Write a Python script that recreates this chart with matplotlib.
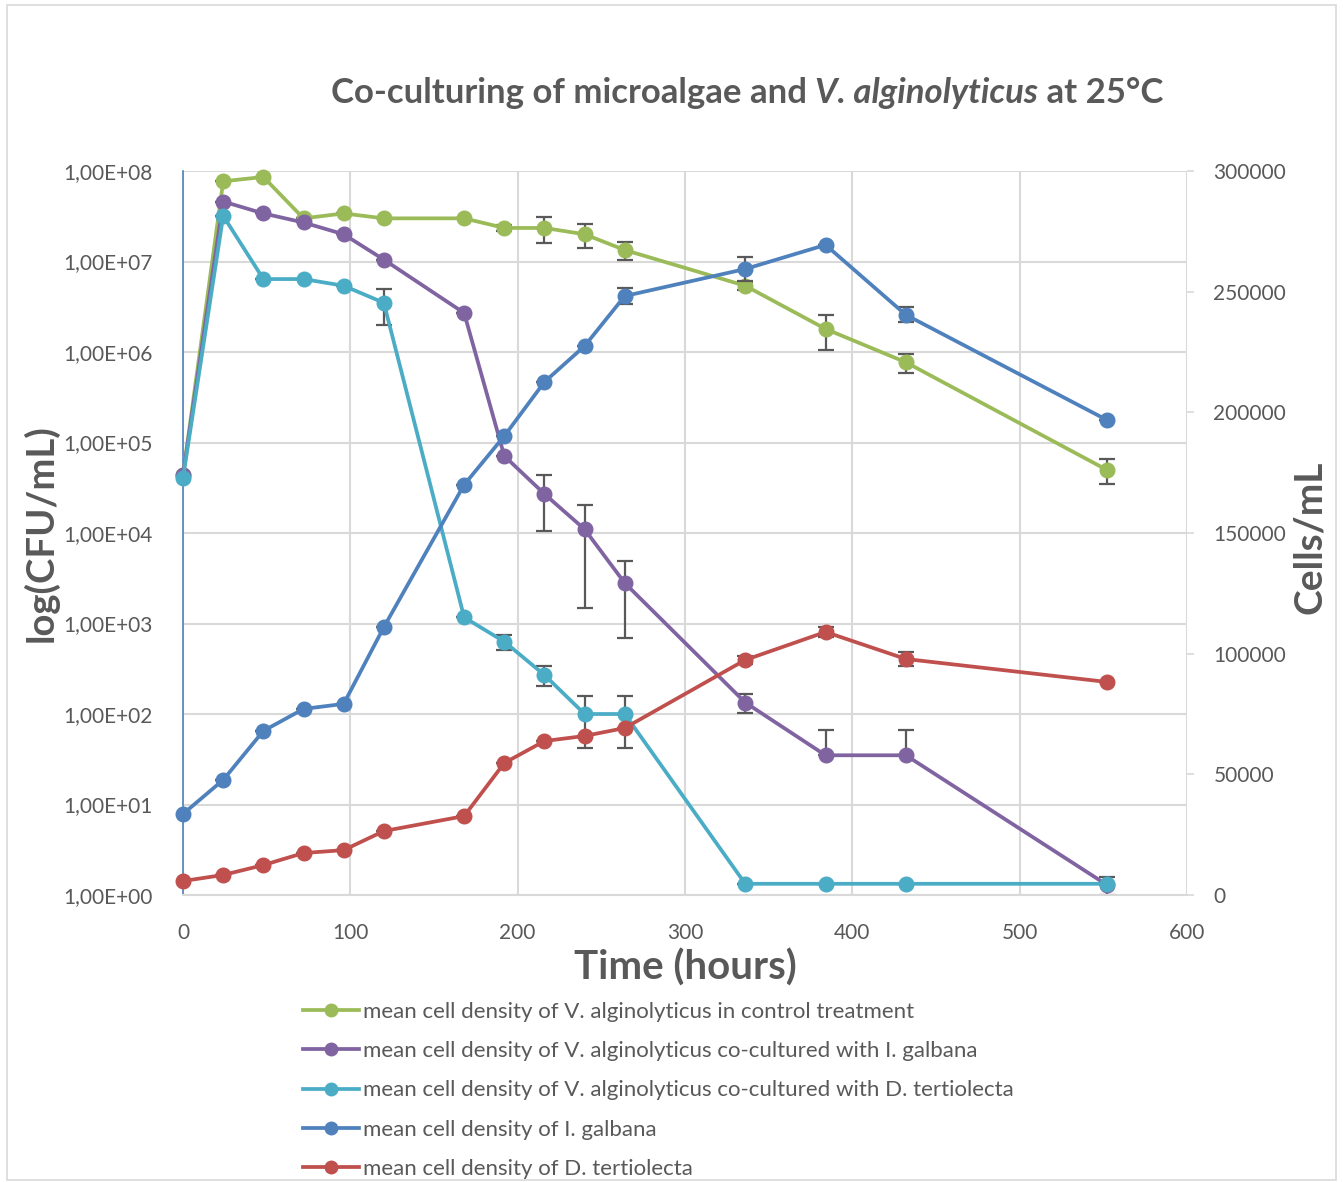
import numpy as np
import matplotlib.pyplot as plt
from matplotlib.ticker import FixedLocator, FuncFormatter, NullLocator
from matplotlib.patches import Rectangle

plt.rcParams['font.family'] = ['Lato', 'DejaVu Sans']

# sampling times (hours)
hours = [0, 24, 48, 72, 96, 120, 168, 192, 216, 240, 264, 336, 384, 432, 552]

# V. alginolyticus, CFU/mL (left log axis)
control = [4.4e4, 7.7e7, 8.6e7, 3.0e7, 3.4e7, 3.0e7, 3.0e7, 2.35e7, 2.35e7, 2.0e7,
           1.34e7, 5.4e6, 1.8e6, 7.7e5, 5.0e4]
control_err = [0, 0, 0, 0, 0, 0, 0, 0.2e7, 0.75e7, 0.6e7, 0.3e7, 0.6e6, 0.76e6, 1.9e5, 1.5e4]

with_galbana = [4.4e4, 4.6e7, 3.4e7, 2.7e7, 2.0e7, 1.05e7, 2.7e6, 7.1e4, 2.7e4, 1.1e4,
                2.8e3, 134, 35, 35, 1.3]
galbana_err_lo = [0, 0, 0, 0, 0, 0, 0, 0, 1.65e4, 9.5e3, 2.1e3, 32, 0, 0, 0.3]
galbana_err_hi = [0, 0, 0, 0, 0, 0, 0, 0, 1.65e4, 9.5e3, 2.1e3, 32, 31, 31, 0.3]

with_tertiolecta = [4.1e4, 3.2e7, 6.4e6, 6.4e6, 5.4e6, 3.5e6, 1.17e3, 630, 270, 100,
                    100, 1.33, 1.33, 1.33, 1.33]
tertiolecta_err = [0, 0, 0, 0, 0, 1.5e6, 0, 115, 68, 58, 58, 0, 0, 0, 0]

# microalgae, cells/mL (right linear axis)
galbana_cells = [33600, 47700, 68000, 77100, 79200, 111000, 170000, 190200, 212600,
                 227500, 248200, 259400, 269400, 240400, 196900]
galbana_cells_err = [0, 0, 0, 0, 0, 0, 0, 0, 0, 0, 3300, 5000, 0, 3100, 0]

tertiolecta_cells = [5800, 8300, 12400, 17400, 18600, 26500, 32700, 54700, 63800, 65900,
                     69200, 97400, 109000, 97800, 88300]
tertiolecta_cells_err = [0, 0, 0, 0, 0, 0, 0, 0, 0, 0, 0, 1800, 2000, 3000, 0]

labels = [
    'mean cell density of V. alginolyticus in control treatment',
    'mean cell density of V. alginolyticus co-cultured with I. galbana',
    'mean cell density of V. alginolyticus co-cultured with D. tertiolecta',
    'mean cell density of I. galbana',
    'mean cell density of D. tertiolecta',
]
colors = ['#9BBB59', '#8064A2', '#4BACC6', '#4F81BD', '#C0504D']

grey = '#595959'
fig = plt.figure(figsize=(13.43, 11.82), dpi=100)
fig.patches.append(Rectangle((0.005, 0.002), 0.99, 0.994, transform=fig.transFigure,
                             fill=False, edgecolor='#d9d9d9', lw=1.2))

ax = fig.add_axes([0.1363, 0.2428, 0.7475, 0.6125])
ax2 = ax.twinx()

line_kw = dict(lw=2.7, marker='o', ms=10.5, clip_on=False)
err_kw = dict(fmt='none', ecolor=grey, elinewidth=1.6, capsize=6, capthick=1.6)

x = np.array(hours)
ax.errorbar(x, control, yerr=control_err, zorder=2, **err_kw)
ax.errorbar(x, with_galbana, yerr=[galbana_err_lo, galbana_err_hi], zorder=2, **err_kw)
ax.errorbar(x, with_tertiolecta, yerr=tertiolecta_err, zorder=2, **err_kw)
l1, = ax.plot(x, control, color=colors[0], zorder=3, **line_kw)
l2, = ax.plot(x, with_galbana, color=colors[1], zorder=3, **line_kw)
l3, = ax.plot(x, with_tertiolecta, color=colors[2], zorder=3, **line_kw)

ax2.errorbar(x, galbana_cells, yerr=galbana_cells_err, zorder=2, **err_kw)
ax2.errorbar(x, tertiolecta_cells, yerr=tertiolecta_cells_err, zorder=2, **err_kw)
l4, = ax2.plot(x, galbana_cells, color=colors[3], zorder=3, **line_kw)
l5, = ax2.plot(x, tertiolecta_cells, color=colors[4], zorder=3, **line_kw)

ax.set_yscale('log')
ax.set_ylim(1, 1e8)
ax.set_xlim(0, 600)
ax.yaxis.set_major_locator(FixedLocator([10.0 ** k for k in range(9)]))
ax.yaxis.set_minor_locator(NullLocator())
ax.yaxis.set_major_formatter(FuncFormatter(lambda v, p: '1,00E+%02d' % round(np.log10(v))))
ax.set_xticks(range(0, 601, 100))
ax.grid(True, color='#d9d9d9', lw=1.5)
ax.set_axisbelow(True)

ax2.set_ylim(0, 300000)
ax2.set_yticks(range(0, 300001, 50000))

for a in (ax, ax2):
    for s in a.spines.values():
        s.set_visible(False)
ax.spines['left'].set_visible(True)
ax.spines['left'].set_color('#4F81BD')
ax.spines['left'].set_linewidth(1.2)
ax.spines['bottom'].set_visible(True)
ax.spines['bottom'].set_color('#d9d9d9')
ax.spines['bottom'].set_linewidth(1.5)

ax.tick_params(axis='y', labelsize=15, colors=grey, length=0, pad=22)
ax.tick_params(axis='x', labelsize=15, colors=grey, length=0, pad=20)
ax2.tick_params(axis='y', labelsize=15, colors=grey, length=5, width=1.2, pad=14)
ax2.tick_params(axis='y', color='#d9d9d9')

ax.set_xlabel('Time (hours)', fontsize=29, fontweight='bold', color=grey, labelpad=4)
fig.text(0.030, 0.549, 'log(CFU/mL)', rotation=90, fontsize=27.5, fontweight='bold',
         color=grey, ha='center', va='center')
fig.text(0.975, 0.545, 'Cells/mL', rotation=90, fontsize=28, fontweight='bold',
         color=grey, ha='center', va='center')

# title with italic species name, laid out piece by piece
parts = [('Co-culturing of microalgae and ', 'normal'),
         ('V. alginolyticus', 'italic'),
         (' at 25°C', 'normal')]
fig.canvas.draw()
r = fig.canvas.get_renderer()
texts = []
for s, st in parts:
    t = fig.text(0, 0.921, s, fontsize=25, fontweight='bold', style=st, color=grey,
                 va='center', ha='left')
    texts.append(t)
widths = [t.get_window_extent(r).width for t in texts]
total = sum(widths)
x0 = 747 - total / 2
for t, w in zip(texts, widths):
    t.set_x(x0 / fig.bbox.width)
    x0 += w

leg = fig.legend([l1, l2, l3, l4, l5], labels, loc='upper left',
                 bbox_to_anchor=(0.2256, 0.1525), frameon=False, fontsize=16,
                 handlelength=2.5, handletextpad=0.2, labelspacing=0.87,
                 borderaxespad=0, borderpad=0)
for t in leg.get_texts():
    t.set_color(grey)
for h in leg.legend_handles:
    h.set_markersize(9)

fig.savefig('out.png', dpi=100)
